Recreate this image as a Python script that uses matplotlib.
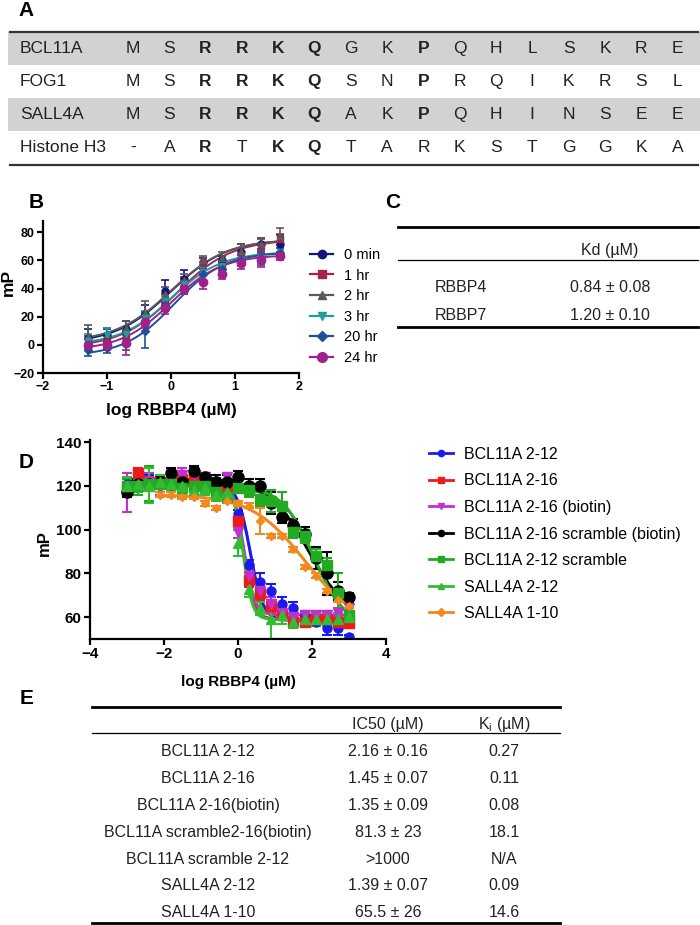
import numpy as np
import matplotlib
matplotlib.use('Agg')
import matplotlib.pyplot as plt

plt.rcParams['font.family'] = ['Liberation Sans', 'DejaVu Sans']
plt.rcParams['mathtext.default'] = 'regular'

# ---- panel A: peptide alignment
seq_names = ['BCL11A', 'FOG1', 'SALL4A', 'Histone H3']
seqs = ['MSRRKQGKPQHLSKRE',
        'MSRRKQSNPRQIKRSL',
        'MSRRKQAKPQHINSEE',
        '-ARTKQTARKSTGGKA']
bold_cols = [[2, 3, 4, 5, 8], [2, 3, 4, 5, 8], [2, 3, 4, 5, 8], [2, 4, 5]]

# ---- panel B: RBBP4 titration over time
b_x = [-1.3, -1.0, -0.7, -0.4, -0.1, 0.2, 0.5, 0.8, 1.1, 1.4, 1.7]
b_labels = ['0 min', '1 hr', '2 hr', '3 hr', '20 hr', '24 hr']
b_y = [[5, 7, 11, 22, 38, 47, 59, 60, 66, 72, 72],
       [2, 2, 5, 18, 32, 44, 58, 55, 62, 70, 75],
       [6, 8, 12, 23, 36, 46, 60, 62, 67, 72, 77],
       [3, 7, 8, 19, 31, 43, 52, 56, 60, 62, 66],
       [-4, -2, 2, 10, 28, 40, 50, 54, 60, 62, 65],
       [0, 0, 1, 16, 26, 40, 45, 50, 58, 60, 63]]
b_err = [[6, 4, 6, 6, 8, 6, 3, 3, 6, 4, 6],
         [4, 4, 5, 5, 4, 4, 4, 4, 5, 5, 4],
         [8, 4, 5, 8, 5, 4, 3, 4, 5, 4, 6],
         [5, 5, 4, 5, 4, 4, 3, 4, 4, 4, 3],
         [4, 4, 6, 12, 4, 4, 4, 4, 4, 5, 4],
         [4, 4, 8, 4, 4, 4, 5, 3, 4, 5, 3]]
# 4PL fit parameters: bottom, top, logEC50, hill
b_bottom = [1, -2, 2, 0, -8, -4]
b_top = [75, 75, 75, 66, 66, 64]
b_logec = [0.0, 0.08, 0.0, 0.0, 0.05, 0.0]
b_hill = [1.0, 1.0, 1.0, 1.1, 1.1, 1.1]

# ---- panel C
c_rows = ['RBBP4', 'RBBP7']
c_kd = ['0.84 ± 0.08', '1.20 ± 0.10']

# ---- panel D: competition
d_x = [-3.0, -2.7, -2.4, -2.1, -1.8, -1.5, -1.2, -0.9, -0.6, -0.3, 0.0,
       0.3, 0.6, 0.9, 1.2, 1.5, 1.8, 2.1, 2.4, 2.7, 3.0]
d_labels = ['BCL11A 2-12', 'BCL11A 2-16', 'BCL11A 2-16 (biotin)',
            'BCL11A 2-16 scramble (biotin)', 'BCL11A 2-12 scramble',
            'SALL4A 2-12', 'SALL4A 1-10']
nan = np.nan
d_y = [[121, 121, 122, 121, 120.5, 121, 120.5, 121, 121.5, 120.5, 107,
        84, 76, 72, 66, 64, 61, 58, 55, 55, 51],
       [118, 126, 122, 122, 122, 123, 124, 123, 119, 119, 104,
        77, 71, 65, 61, 58, 58, 59, 59, 58, 57.5],
       [117, 121, 122, 119, 122, 125, 125, 124, 120, 124, 99,
        79, 72, 66, 62, 60, 61, 61, 61, 62, 64],
       [117, 121, 121, 122, 126, 122, 127, 124, 122, 122, 124,
        120, 120, 112, 106, 102, 98, 87, 80, 72, 69],
       [120, 120, 121, 121, 121, 119, 120, 120, 117, 115, 119,
        118, 114, 113, 111, 99, 97, 88, 84, 71, 61],
       [120, 121, 120, 122, 121, 120, 118, 119, 116, 117, 94,
        73, 64, 59, 61, 58, 59, 59, 59, 59, 60],
       [nan, nan, nan, 116, 116, 115, 115, 112, 110, 113, 112,
        111, 104, 97, 97, 91, 83, 79, 72, 68, 65]]
d_err = [[2, 2, 3, 2, 2, 2, 2, 2, 2, 2, 2, 2, 4, 3, 3, 3, 2, 2, 3, 3, 1],
         [3, 2, 2, 2, 2, 2, 2, 2, 2, 2, 2, 3, 3, 3, 2, 2, 2, 2, 2, 2, 2],
         [9, 3, 4, 3, 3, 3, 3, 2, 2, 2, 3, 3, 3, 3, 2, 2, 2, 2, 2, 2, 2],
         [2, 2, 2, 2, 2, 2, 2, 2, 3, 3, 3, 3, 3, 5, 3, 3, 3, 5, 10, 4, 2],
         [3, 4, 8, 4, 3, 4, 3, 3, 3, 3, 2, 3, 3, 5, 6, 3, 3, 3, 3, 9, 2],
         [4, 4, 8, 3, 3, 3, 3, 3, 3, 3, 6, 4, 3, 9, 4, 3, 3, 3, 3, 3, 2],
         [0, 0, 0, 1, 1, 1, 1, 1, 1, 1, 1, 1, 6, 1, 1, 1, 1, 1, 1, 1, 1]]
d_bottom = [58.5, 59, 61, 58, 55, 59, 55]
d_top = [121, 122, 122.5, 123, 120, 120, 116]
d_logic = [0.33, 0.15, 0.15, 1.9, 2.05, 0.14, 1.82]
d_hill = [-2.5, -3.0, -3.0, -0.8, -1.0, -3.5, -0.6]

# ---- panel E
e_names = ['BCL11A 2-12', 'BCL11A 2-16', 'BCL11A 2-16(biotin)',
           'BCL11A scramble2-16(biotin)', 'BCL11A scramble 2-12',
           'SALL4A 2-12', 'SALL4A 1-10']
e_ic50 = ['2.16 ± 0.16', '1.45 ± 0.07', '1.35 ± 0.09', '81.3 ± 23',
          '>1000', '1.39 ± 0.07', '65.5 ± 26']
e_ki = ['0.27', '0.11', '0.08', '18.1', 'N/A', '0.09', '14.6']


def four_pl(x, bottom, top, logc, hill):
    return bottom + (top - bottom) / (1 + 10 ** ((logc - x) * hill))


W, H = 700, 925
fig = plt.figure(figsize=(7, 9.25), dpi=100)


def px_axes(left, top, right, bottom):
    return fig.add_axes([left / W, 1 - bottom / H, (right - left) / W, (bottom - top) / H])


# overlay in pixel coordinates for tables and labels
ov = fig.add_axes([0, 0, 1, 1])
ov.set_xlim(0, W)
ov.set_ylim(H, 0)
ov.axis('off')

# panel letters
for lab, (lx, ly) in zip('ABCDE', [(26, 10), (36, 203), (393, 203), (26, 463), (27, 699)]):
    ov.text(lx, ly, lab, fontsize=15, fontweight='bold', ha='center', va='center')

# ---- A table
row_h = 33
a_top = 32
col0 = 133
col_step = 36.3
for i, (name, s) in enumerate(zip(seq_names, seqs)):
    yc = a_top + row_h * (i + 0.5)
    if i % 2 == 0:
        ov.add_patch(plt.Rectangle((8, a_top + row_h * i), W - 8, row_h,
                                   facecolor='#d2d2d2', edgecolor='none'))
    ov.text(20, yc, name, fontsize=12.5, ha='left', va='center', color='#222222')
    for j, ch in enumerate(s):
        ov.text(col0 + col_step * j, yc, ch, fontsize=12.5, ha='center', va='center',
                fontweight='bold' if j in bold_cols[i] else 'normal', color='#222222')
ov.plot([10, 698], [a_top, a_top], color='#333333', lw=1.6)
ov.plot([10, 698], [a_top + 4 * row_h + 1, a_top + 4 * row_h + 1], color='#333333', lw=1.6)

# ---- B plot
axb = px_axes(43, 221, 299, 373)
markers_b = ['o', 's', '^', 'v', 'D', 'o']
colors_b = ['#14147a', '#a3254f', '#5a5a5a', '#1f9c9c', '#1f4f9a', '#a0208c']
ms_b = [5, 4.5, 5, 5, 4, 6]
xx = np.linspace(min(b_x), max(b_x), 200)
for k in range(len(b_labels)):
    axb.errorbar(b_x, b_y[k], yerr=b_err[k], fmt=markers_b[k], color=colors_b[k],
                 ms=ms_b[k], capsize=3, elinewidth=1.2, capthick=1.2)
    axb.plot(xx, four_pl(xx, b_bottom[k], b_top[k], b_logec[k], b_hill[k]),
             color=colors_b[k], lw=1.4)
axb.set_xlim(-2, 2)
axb.set_ylim(-20, 88)
axb.set_xticks([-2, -1, 0, 1, 2])
axb.set_yticks([-20, 0, 20, 40, 60, 80])
hb = [plt.Line2D([], [], color=colors_b[k], marker=markers_b[k], ms=ms_b[k] + 1, lw=1.6)
      for k in range(len(b_labels))]
axb.legend(hb, b_labels, loc='upper left', bbox_to_anchor=(310 / W, 1 - 248 / H),
           bbox_transform=fig.transFigure, frameon=False, fontsize=10.5,
           handlelength=1.6, handletextpad=0.7, labelspacing=0.45, borderpad=0,
           borderaxespad=0)
ov.text(171, 410, 'log RBBP4 (µM)', fontsize=12.5, fontweight='bold', ha='center', va='center')
ov.text(8, 282, 'mP', fontsize=12.5, fontweight='bold', ha='center', va='center', rotation=90)

# ---- D plot
axd = px_axes(90, 440, 386, 639)
markers_d = ['o', 's', 'v', 'o', 's', '^', 'D']
colors_d = ['#1a1aee', '#ee1a1a', '#c030d0', '#000000', '#22aa22', '#33bb33', '#f08a20']
ms_d = [6.5, 6.5, 6.5, 8, 6.5, 6.5, 4.5]
for k in range(len(d_labels)):
    yk = np.array(d_y[k], dtype=float)
    ok = ~np.isnan(yk)
    xk = np.array(d_x)[ok]
    axd.errorbar(xk, yk[ok], yerr=np.array(d_err[k])[ok], fmt=markers_d[k],
                 color=colors_d[k], ms=ms_d[k], capsize=3.5, elinewidth=1.5, capthick=1.5)
    xf = np.linspace(xk.min(), xk.max(), 300)
    axd.plot(xf, four_pl(xf, d_bottom[k], d_top[k], d_logic[k], d_hill[k]),
             color=colors_d[k], lw=2.2)
axd.set_xlim(-4, 4)
axd.set_ylim(50, 141)
axd.set_xticks([-4, -2, 0, 2, 4])
axd.set_yticks([60, 80, 100, 120, 140])
hd = [plt.Line2D([], [], color=colors_d[k], marker=markers_d[k], ms=4.5, lw=2)
      for k in range(len(d_labels))]
axd.legend(hd, d_labels, loc='upper left', bbox_to_anchor=(429 / W, 1 - 447 / H),
           bbox_transform=fig.transFigure, frameon=False, fontsize=11.5,
           handlelength=1.5, handletextpad=0.7, labelspacing=0.72, borderpad=0,
           borderaxespad=0)
ov.text(238, 682, 'log RBBP4 (µM)', fontsize=11, fontweight='bold', ha='center', va='center')
ov.text(44, 543, 'mP', fontsize=12, fontweight='bold', ha='center', va='center', rotation=90)

for ax, fs in [(axb, 9), (axd, 11)]:
    for sp in ['top', 'right']:
        ax.spines[sp].set_visible(False)
    for sp in ['left', 'bottom']:
        ax.spines[sp].set_linewidth(1.6)
    ax.tick_params(direction='out', length=4, width=1.6, labelsize=fs, pad=2)
    for t in ax.get_xticklabels() + ax.get_yticklabels():
        t.set_fontweight('bold')

# ---- C table
ov.plot([398, 698], [227, 227], color='black', lw=2)
ov.plot([398, 698], [260, 260], color='black', lw=0.9)
ov.plot([398, 698], [327, 327], color='black', lw=2)
ov.text(610, 250, 'Kd (µM)', fontsize=11.5, ha='center', va='center', color='#222222')
for i, (r, v) in enumerate(zip(c_rows, c_kd)):
    ov.text(435, 287 + 28 * i, r, fontsize=11.5, ha='left', va='center', color='#222222')
    ov.text(610, 287 + 28 * i, v, fontsize=11.5, ha='center', va='center', color='#222222')

# ---- E table
ov.plot([92, 560], [707, 707], color='black', lw=2)
ov.plot([92, 560], [733, 733], color='black', lw=0.9)
ov.plot([92, 560], [923, 923], color='black', lw=2)
ov.text(388, 724, 'IC50 (µM)', fontsize=11.5, ha='center', va='center', color='#222222')
ov.text(504, 724, 'K$_\\mathregular{i}$ (µM)', fontsize=11.5, ha='center', va='center', color='#222222')
for i in range(len(e_names)):
    yy = 752 + 26.8 * i
    ov.text(208, yy, e_names[i], fontsize=11.5, ha='center', va='center', color='#222222')
    ov.text(388, yy, e_ic50[i], fontsize=11.5, ha='center', va='center', color='#222222')
    ov.text(504, yy, e_ki[i], fontsize=11.5, ha='center', va='center', color='#222222')

fig.savefig('out.png', dpi=100)
